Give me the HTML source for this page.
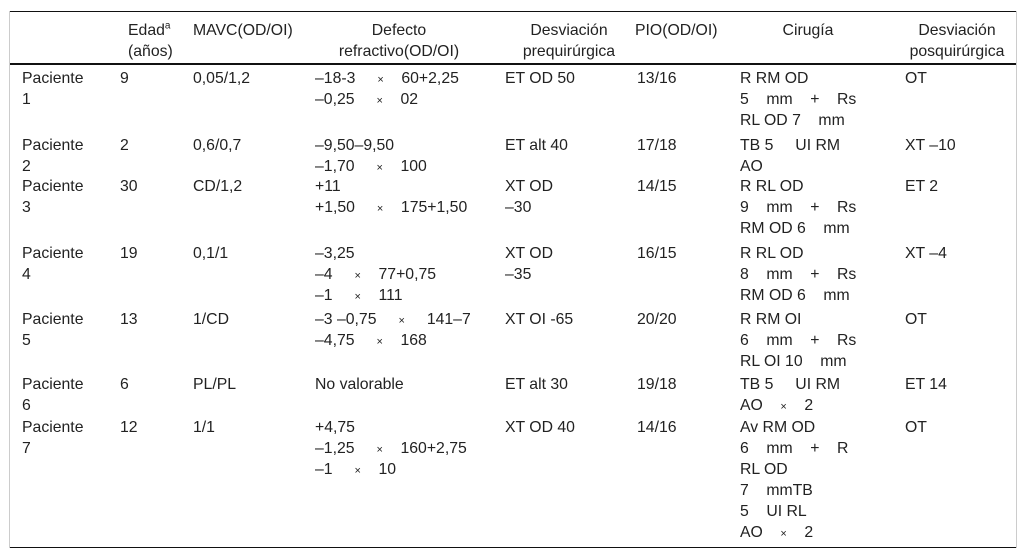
<!DOCTYPE html>
<html><head><meta charset="utf-8">
<style>
body{margin:0;width:1027px;height:559px;background:#fff;position:relative;overflow:hidden;font-family:"Liberation Sans",Arial,sans-serif;font-size:15.8px;color:#222;}
.c{position:absolute;line-height:21px;white-space:pre;}
.x{font-size:11px;line-height:0;}
.h{text-align:center;}
.ln{position:absolute;background:#111;}
sup{font-size:10px;line-height:0;}
</style></head><body>
<div class="ln" style="left:9px;top:11px;width:1008px;height:1px;"></div>
<div class="ln" style="left:9px;top:63px;width:1008px;height:2px;"></div>
<div class="ln" style="left:9px;top:547px;width:1008px;height:1px;"></div>
<div class="ln" style="left:9px;top:11px;width:1px;height:537px;background:#ccc;"></div>
<div class="ln" style="left:1016px;top:11px;width:1px;height:537px;background:#ccc;"></div>

<div>
<div class="c" style="left:128px;top:20px;">Edad<sup>a</sup>
(años)</div>
<div class="c" style="left:193px;top:20px;">MAVC(OD/OI)</div>
<div class="c h" style="left:318px;width:162px;top:20px;">Defecto
refractivo(OD/OI)</div>
<div class="c h" style="left:510px;width:118px;top:20px;">Desviación
prequirúrgica</div>
<div class="c" style="left:635px;top:20px;">PIO(OD/OI)</div>
<div class="c h" style="left:760px;width:96px;top:20px;">Cirugía</div>
<div class="c h" style="left:902px;width:110px;top:20px;">Desviación
posquirúrgica</div>
</div>

<div>
<div class="c" style="left:22px;top:68px;">Paciente
1</div>
<div class="c" style="left:120px;top:68px;">9</div>
<div class="c" style="left:193px;top:68px;">0,05/1,2</div>
<div class="c" style="left:315px;top:68px;">–18-3     <span class="x">×</span>    60+2,25
–0,25     <span class="x">×</span>    02</div>
<div class="c" style="left:505px;top:68px;">ET OD 50</div>
<div class="c" style="left:637px;top:68px;">13/16</div>
<div class="c" style="left:740px;top:68px;">R RM OD
5    mm    +    Rs
RL OD 7    mm</div>
<div class="c" style="left:905px;top:68px;">OT</div>
</div>

<div>
<div class="c" style="left:22px;top:135px;">Paciente
2</div>
<div class="c" style="left:120px;top:135px;">2</div>
<div class="c" style="left:193px;top:135px;">0,6/0,7</div>
<div class="c" style="left:315px;top:135px;">–9,50–9,50
–1,70     <span class="x">×</span>    100</div>
<div class="c" style="left:505px;top:135px;">ET alt 40</div>
<div class="c" style="left:637px;top:135px;">17/18</div>
<div class="c" style="left:740px;top:135px;">TB 5     UI RM
AO</div>
<div class="c" style="left:905px;top:135px;">XT –10</div>
</div>

<div>
<div class="c" style="left:22px;top:176px;">Paciente
3</div>
<div class="c" style="left:120px;top:176px;">30</div>
<div class="c" style="left:193px;top:176px;">CD/1,2</div>
<div class="c" style="left:315px;top:176px;">+11
+1,50     <span class="x">×</span>    175+1,50</div>
<div class="c" style="left:505px;top:176px;">XT OD
–30</div>
<div class="c" style="left:637px;top:176px;">14/15</div>
<div class="c" style="left:740px;top:176px;">R RL OD
9    mm    +    Rs
RM OD 6    mm</div>
<div class="c" style="left:905px;top:176px;">ET 2</div>
</div>

<div>
<div class="c" style="left:22px;top:243px;">Paciente
4</div>
<div class="c" style="left:120px;top:243px;">19</div>
<div class="c" style="left:193px;top:243px;">0,1/1</div>
<div class="c" style="left:315px;top:243px;">–3,25
–4     <span class="x">×</span>    77+0,75
–1     <span class="x">×</span>    111</div>
<div class="c" style="left:505px;top:243px;">XT OD
–35</div>
<div class="c" style="left:637px;top:243px;">16/15</div>
<div class="c" style="left:740px;top:243px;">R RL OD
8    mm    +    Rs
RM OD 6    mm</div>
<div class="c" style="left:905px;top:243px;">XT –4</div>
</div>

<div>
<div class="c" style="left:22px;top:309px;">Paciente
5</div>
<div class="c" style="left:120px;top:309px;">13</div>
<div class="c" style="left:193px;top:309px;">1/CD</div>
<div class="c" style="left:315px;top:309px;">–3 –0,75     <span class="x">×</span>     141–7
–4,75     <span class="x">×</span>    168</div>
<div class="c" style="left:505px;top:309px;">XT OI -65</div>
<div class="c" style="left:637px;top:309px;">20/20</div>
<div class="c" style="left:740px;top:309px;">R RM OI
6    mm    +    Rs
RL OI 10    mm</div>
<div class="c" style="left:905px;top:309px;">OT</div>
</div>

<div>
<div class="c" style="left:22px;top:374px;">Paciente
6</div>
<div class="c" style="left:120px;top:374px;">6</div>
<div class="c" style="left:193px;top:374px;">PL/PL</div>
<div class="c" style="left:315px;top:374px;">No valorable</div>
<div class="c" style="left:505px;top:374px;">ET alt 30</div>
<div class="c" style="left:637px;top:374px;">19/18</div>
<div class="c" style="left:740px;top:374px;">TB 5     UI RM
AO    <span class="x">×</span>    2</div>
<div class="c" style="left:905px;top:374px;">ET 14</div>
</div>

<div>
<div class="c" style="left:22px;top:417px;">Paciente
7</div>
<div class="c" style="left:120px;top:417px;">12</div>
<div class="c" style="left:193px;top:417px;">1/1</div>
<div class="c" style="left:315px;top:417px;">+4,75
–1,25     <span class="x">×</span>    160+2,75
–1     <span class="x">×</span>    10</div>
<div class="c" style="left:505px;top:417px;">XT OD 40</div>
<div class="c" style="left:637px;top:417px;">14/16</div>
<div class="c" style="left:740px;top:417px;">Av RM OD
6    mm    +    R
RL OD
7    mmTB
5    UI RL
AO    <span class="x">×</span>    2</div>
<div class="c" style="left:905px;top:417px;">OT</div>
</div>
</body></html>
